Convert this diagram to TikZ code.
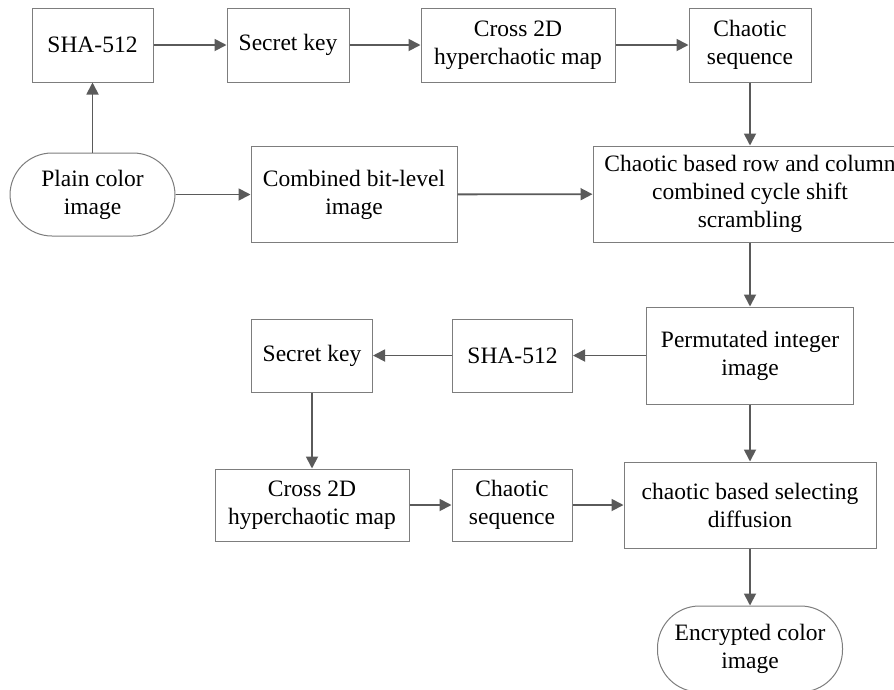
\documentclass[tikz,border=0pt]{standalone}
\usepackage{fontspec}
\setmainfont{Liberation Serif}
\usepackage{xcolor}
\usetikzlibrary{arrows.meta, positioning}

\definecolor{edgegray}{RGB}{125,125,125}
\definecolor{flowgray}{RGB}{90,90,90}

\begin{document}
\begin{tikzpicture}[
    x=1pt, y=-1pt,
    font=\fontsize{23.5}{28}\selectfont,
    box/.style={rectangle, draw=edgegray, line width=1pt, inner sep=0pt, align=center},
    term/.style={box, rounded corners=42pt},
    flow/.style={-{Triangle[length=12pt,width=12pt]}, draw=flowgray, fill=flowgray, line width=1.8pt}
]
\useasboundingbox (0,0) rectangle (894,689);

% Top row
\node[box, minimum width=121pt, minimum height=74pt] (sha1) at (92.5,45) {SHA-512};
\node[box, minimum width=122pt, minimum height=74pt, right=73pt of sha1] (key1) {Secret key};
\node[box, minimum width=194pt, minimum height=74pt, right=71pt of key1] (map1) {Cross 2D\\hyperchaotic map};
\node[box, minimum width=122pt, minimum height=74pt, right=73pt of map1] (seq1) {Chaotic\\sequence};

% Permutation row
\node[term, minimum width=165pt, minimum height=83pt, below=70pt of sha1] (plain) {Plain color\\image};
\node[box, minimum width=206pt, minimum height=96pt, right=75pt of plain] (bits) {Combined bit-level\\image};
\node[box, minimum width=314pt, minimum height=96pt, below=63pt of seq1] (scramble) {Chaotic based row and column\\combined cycle shift\\scrambling};

% Key row
\node[box, minimum width=207pt, minimum height=97pt, below=64pt of scramble] (perm) {Permutated integer\\image};
\node[box, minimum width=120pt, minimum height=73pt, left=73pt of perm] (sha2) {SHA-512};
\node[box, minimum width=121pt, minimum height=73pt, left=79pt of sha2] (key2) {Secret key};

% Diffusion row
\node[box, minimum width=194pt, minimum height=72pt, below=76pt of key2] (map2) {Cross 2D\\hyperchaotic map};
\node[box, minimum width=120pt, minimum height=72pt, right=42pt of map2] (seq2) {Chaotic\\sequence};
\node[box, minimum width=252pt, minimum height=86pt, below=57pt of perm] (diff) {chaotic based selecting\\diffusion};
\node[term, minimum width=185pt, minimum height=86pt, below=57pt of diff] (cipher) {Encrypted color\\image};

% Arrows
\draw[flow] (plain) -- (sha1);
\draw[flow] (sha1) -- (key1);
\draw[flow] (key1) -- (map1);
\draw[flow] (map1) -- (seq1);
\draw[flow] (seq1) -- (scramble);
\draw[flow] (plain) -- (bits);
\draw[flow] (bits) -- (scramble);
\draw[flow] (scramble) -- (perm);
\draw[flow] (perm) -- (sha2);
\draw[flow] (sha2) -- (key2);
\draw[flow] (key2) -- (map2);
\draw[flow] (map2) -- (seq2);
\draw[flow] (seq2) -- (diff);
\draw[flow] (perm) -- (diff);
\draw[flow] (diff) -- (cipher);

\end{tikzpicture}
\end{document}
